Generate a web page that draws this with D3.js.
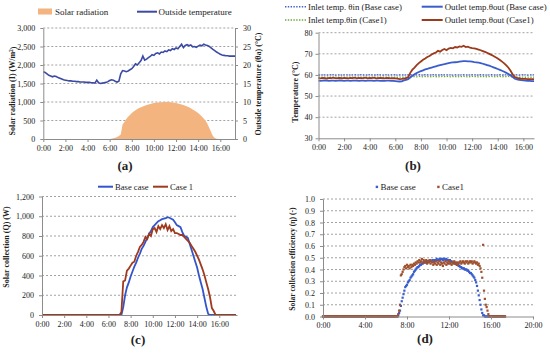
<!DOCTYPE html>
<html><head><meta charset="utf-8">
<script src="https://cdn.jsdelivr.net/npm/d3@7"></script>
<style>
body{margin:0;background:#fff}
svg text{font-family:"Liberation Serif","Times New Roman",serif}
</style>
</head><body>
<svg id="c" width="550" height="355"></svg>
<script>
// ---------- DATA ----------
// sampling: 10-minute steps (panels a,b,c) and 5-minute steps (panel d), times in hours
const t10 = d3.range(0, 106).map(i => i / 6);
const t5 = d3.range(0, 209).map(i => i / 12);

const timeTicksA = [0,2,4,6,8,10,12,14,16];
const timeTicksD = [0,4,8,12,16,20];

// (a) solar radiation (W/m2), 0:00 - 17:20
const solarRad = [
0,0,0,0,0,0, 0,0,0,0,0,0, 0,0,0,0,0,0, 0,0,0,0,0,0, 0,0,0,0,0,0, 0,0,0,0,0,0,
0,8,20,35,55,80,
120,390,460,540,600,650,
700,740,775,808,836,860,
880,900,918,933,946,958,
970,978,986,992,996,999,
1000,1000,998,994,988,980,
971,960,948,934,918,900,
879,856,830,800,768,734,
700,655,606,553,490,410,
305,190,80,30,5,0,
0,0,0,0,0,0,
0,0,0];
// (a) outside temperature (°C)
const outsideTemp = [
18.2,18.0,17.6,17.2,17.0,16.8,
17.0,16.9,16.6,16.4,16.2,16.0,
15.9,15.8,15.7,15.7,15.6,15.6,
15.5,15.5,15.4,15.4,15.4,15.3,
15.3,15.3,15.2,15.2,15.1,15.9,
15.2,15.0,15.1,15.2,15.3,15.5,
15.8,16.0,15.9,15.6,15.4,15.6,
17.6,18.5,18.4,18.2,18.4,18.7,
19.0,19.6,20.3,20.0,20.6,21.2,
22.4,21.3,21.6,22.0,22.3,22.8,
22.6,23.1,23.3,23.0,23.5,23.4,
23.8,23.6,24.1,23.9,24.4,24.2,
24.6,24.4,25.0,25.6,24.7,25.3,
25.5,25.2,25.4,24.9,25.0,24.8,
25.1,25.4,25.2,25.6,25.4,25.3,
25.0,24.6,24.2,23.9,23.5,23.2,
22.9,22.7,22.6,22.5,22.5,22.4,
22.4,22.4,22.4];

// (b) temperatures (°C), 0:00 - 16:50
const inletBase = [
60.0,59.9,60.1,60.0,59.9,60.1, 60.0,60.1,59.9,60.0,60.1,59.9,
60.0,60.0,60.1,59.9,60.0,60.1, 59.9,60.0,60.1,60.0,59.9,60.0,
60.1,60.0,59.9,60.0,60.1,60.0, 59.9,60.0,60.1,59.9,60.0,60.0,
60.1,59.9,60.0,60.0,59.9,60.0, 60.0,60.1,60.0,59.9,60.0,60.1,
60.0,59.9,60.1,60.0,60.0,59.9, 60.1,60.0,59.9,60.0,60.1,60.0,
60.0,60.1,60.0,59.9,60.0,60.1, 59.9,60.0,60.1,60.0,59.9,60.0,
60.1,60.0,60.0,59.9,60.1,60.0, 60.0,59.9,60.0,60.1,60.0,59.9,
60.0,60.1,59.9,60.0,60.0,60.1, 60.0,59.9,60.1,60.0,59.9,60.0,
60.1,60.0,59.9,60.0,60.1,60.0];
const inletCase1 = [
58.9,59.0,58.9,59.0,58.9,59.0, 59.0,58.9,59.0,58.9,59.0,59.0,
58.9,59.0,59.0,58.9,59.0,58.9, 59.0,58.9,59.0,59.0,58.9,59.0,
59.0,59.0,58.9,59.0,58.9,59.0, 58.9,59.0,59.0,58.9,59.0,59.0,
59.0,58.9,59.0,59.0,58.9,59.0, 59.1,59.2,59.3,59.2,59.1,59.3,
59.2,59.1,59.3,59.2,59.2,59.1, 59.3,59.2,59.1,59.2,59.3,59.2,
59.2,59.3,59.1,59.2,59.2,59.3, 59.1,59.2,59.3,59.2,59.1,59.2,
59.3,59.2,59.2,59.1,59.3,59.2, 59.2,59.1,59.2,59.3,59.2,59.1,
59.2,59.3,59.1,59.2,59.2,59.3, 59.2,59.1,59.0,59.0,58.9,59.0,
59.0,58.9,59.0,59.0,58.9,59.0];
const outletBase = [
57.3,57.2,57.3,57.4,57.3,57.2, 57.3,57.3,57.2,57.3,57.4,57.3,
57.2,57.3,57.3,57.2,57.3,57.3, 57.3,57.2,57.3,57.3,57.2,57.3,
57.3,57.3,57.2,57.3,57.3,57.2, 57.3,57.2,57.3,57.3,57.2,57.2,
57.1,57.0,56.9,57.0,57.4,57.7, 58.0,58.8,59.6,60.3,60.9,61.4,
61.8,62.2,62.6,62.9,63.2,63.5, 63.8,64.1,64.4,64.7,64.9,65.1,
65.4,65.6,65.8,65.9,66.0,66.1, 66.3,66.4,66.5,66.5,66.4,66.4,
66.3,66.1,66.0,65.8,65.6,65.3, 65.0,64.7,64.4,64.0,63.6,63.2,
62.8,62.4,62.0,61.5,61.0,60.4, 59.8,59.0,58.2,57.9,57.7,57.5,
57.4,57.3,57.2,57.2,57.1,57.1];
const outletCase1 = [
58.5,58.4,58.6,58.5,58.3,58.6, 58.5,58.7,58.4,58.5,58.6,58.4,
58.6,58.5,58.4,58.6,58.5,58.7, 58.4,58.6,58.5,58.5,58.7,58.4,
58.6,58.5,58.7,58.4,58.5,58.6, 58.5,58.4,58.6,58.5,58.4,58.5,
58.4,58.2,58.0,58.1,58.3,58.5, 58.9,61.0,62.5,63.5,64.6,65.6,
66.4,67.2,67.8,68.5,69.0,69.7, 70.2,70.6,71.4,71.0,71.8,72.3,
71.7,72.5,72.8,72.6,73.2,73.0, 73.5,73.3,73.8,73.2,73.4,72.9,
72.7,72.6,72.3,72.0,71.7,71.3, 70.9,70.5,70.0,69.5,69.0,68.4,
67.8,67.1,66.3,65.5,64.5,63.4, 62.0,60.2,59.0,58.6,58.4,58.2,
58.1,58.1,58.0,58.0,58.0,58.0];

// (c) solar collection Q (W), 0:00 - 17:30
const qBase = [
0,0,0,0,0,0, 0,0,0,0,0,0, 0,0,0,0,0,0, 0,0,0,0,0,0, 0,0,0,0,0,0, 0,0,0,0,0,0, 0,0,0,0,0,0,
0,0,80,200,280,330,
390,440,490,530,580,620,
670,700,740,780,820,850,
890,910,930,950,960,970,
975,980,990,985,975,965,
940,910,900,890,840,800,
795,780,720,660,600,540,
480,400,330,260,170,80,
10,0,0,0,0,0,
0,0,0,0,0,0,
0,0,0,0];
const qCase1 = [
0,0,0,0,0,0, 0,0,0,0,0,0, 0,0,0,0,0,0, 0,0,0,0,0,0, 0,0,0,0,0,0, 0,0,0,0,0,0, 0,0,0,0,0,0,
0,30,340,350,450,470,
500,530,540,600,640,690,
710,740,790,770,820,800,
870,880,840,900,870,910,
880,920,860,900,850,870,
830,830,820,810,810,790,
770,750,730,700,670,640,
600,560,510,460,400,330,
260,180,70,40,0,0,
0,0,0,0,0,0,
0,0,0,0];

// (d) solar collection efficiency (-), 5-minute steps, 0:00 - 17:20
const effBase = [
0,0,0,0,0,0,0,0,0,0,0,0, 0,0,0,0,0,0,0,0,0,0,0,0, 0,0,0,0,0,0,0,0,0,0,0,0,
0,0,0,0,0,0,0,0,0,0,0,0, 0,0,0,0,0,0,0,0,0,0,0,0, 0,0,0,0,0,0,0,0,0,0,0,0,
0,0,0,0,0,0,0,0,0,0,0,0,
0,0,0.01,0.03,0.05,0.09,0.13,0.16,0.19,0.22,0.25,0.26,
0.27,0.29,0.30,0.31,0.33,0.34,0.35,0.36,0.38,0.39,0.40,0.41,
0.42,0.42,0.43,0.44,0.44,0.45,0.45,0.46,0.46,0.46,0.47,0.46,
0.47,0.47,0.48,0.47,0.47,0.48,0.48,0.47,0.48,0.48,0.49,0.48,
0.48,0.49,0.48,0.49,0.49,0.48,0.49,0.49,0.48,0.49,0.48,0.48,
0.47,0.48,0.47,0.47,0.46,0.46,0.46,0.45,0.45,0.44,0.44,0.43,
0.43,0.42,0.42,0.41,0.41,0.41,0.40,0.40,0.40,0.39,0.39,0.38,
0.37,0.37,0.36,0.35,0.34,0.33,0.31,0.29,0.26,0.22,0.18,0.14,
0.10,0.06,0.03,0.01,0.01,0,0,0,0,0,0,0,
0,0,0,0,0,0,0,0,0,0,0,0,
0,0,0,0,0];
const effCase1 = [
0,0,0,0,0,0,0,0,0,0,0,0, 0,0,0,0,0,0,0,0,0,0,0,0, 0,0,0,0,0,0,0,0,0,0,0,0,
0,0,0,0,0,0,0,0,0,0,0,0, 0,0,0,0,0,0,0,0,0,0,0,0, 0,0,0,0,0,0,0,0,0,0,0,0,
0,0,0,0,0,0,0,0,0,0,0,0,
0,0,0.02,0.05,0.10,0.35,0.36,0.38,0.40,0.42,0.43,0.41,
0.44,0.42,0.43,0.41,0.44,0.42,0.44,0.43,0.45,0.44,0.46,0.45,
0.47,0.46,0.48,0.46,0.47,0.49,0.46,0.48,0.47,0.46,0.48,0.45,
0.47,0.46,0.48,0.45,0.47,0.46,0.44,0.46,0.45,0.47,0.44,0.46,
0.45,0.47,0.44,0.46,0.45,0.43,0.46,0.45,0.47,0.44,0.46,0.45,
0.47,0.45,0.46,0.44,0.46,0.45,0.47,0.45,0.46,0.44,0.46,0.45,
0.46,0.47,0.45,0.46,0.47,0.46,0.45,0.47,0.46,0.47,0.45,0.46,
0.47,0.46,0.47,0.45,0.46,0.47,0.46,0.45,0.46,0.44,0.45,0.43,
0.41,0.38,0.33,0.61,0.22,0.15,0.10,0.08,0.05,0.02,0,0,
0,0,0,0,0,0,0,0,0,0,0,0,
0,0,0,0,0];

// ---------- DRAWING ----------
const svg = d3.select("#c");
const AXC = "#8c8c8c", TXT = "#222";
const FONT = "Liberation Serif, Times New Roman, serif";
const hm = d => d + ":00";

function styleAxis(g, fs){
  g.attr("font-family", FONT).attr("font-size", fs || 8);
  g.select(".domain").attr("stroke", AXC);
  g.selectAll(".tick line").attr("stroke", AXC);
  g.selectAll(".tick text").attr("fill", TXT);
}
function grid(vals, y, x0, x1){
  svg.append("g").selectAll("line").data(vals).join("line")
    .attr("x1", x0).attr("x2", x1).attr("y1", d => y(d)).attr("y2", d => y(d))
    .attr("stroke", "#8a8a8a").attr("stroke-width", 0.8).attr("stroke-dasharray", "2,2");
}
function vTitle(x, y, txt, fs){
  return svg.append("text").attr("transform", `translate(${x},${y}) rotate(-90)`)
    .attr("text-anchor", "middle").attr("dy", "0.35em").attr("font-weight", "bold")
    .attr("font-size", fs || 8).attr("fill", TXT).text(txt);
}
function label(x, y, txt, fs, anchor){
  return svg.append("text").attr("x", x).attr("y", y).attr("font-size", fs || 9)
    .attr("fill", TXT).attr("text-anchor", anchor || "start").text(txt);
}

// ===== Panel (a) =====
{
  const x = d3.scaleLinear([0, 17.33], [43.3, 235]);
  const y = d3.scaleLinear([0, 3000], [139, 28]);
  const y2 = d3.scaleLinear([0, 30], [139, 28]);
  grid([500,1000,1500,2000,2500,3000], y, 43.3, 235);
  const dat = t10.slice(0, solarRad.length).map((t, i) => [t, solarRad[i]]);
  svg.append("path").datum(dat)
    .attr("d", d3.area().x(d => x(d[0])).y0(y(0)).y1(d => y(d[1])))
    .attr("fill", "#f4b47f");
  const dt = t10.slice(0, outsideTemp.length).map((t, i) => [t, outsideTemp[i]]);
  svg.append("path").datum(dt)
    .attr("d", d3.line().x(d => x(d[0])).y(d => y2(d[1])))
    .attr("fill", "none").attr("stroke", "#3b4aa3").attr("stroke-width", 1.6);
  styleAxis(svg.append("g").attr("transform", "translate(43.3,0)")
    .call(d3.axisLeft(y).tickValues([0,500,1000,1500,2000,2500,3000]).tickFormat(d3.format(",")).tickSize(3).tickSizeOuter(0).tickPadding(5)));
  styleAxis(svg.append("g").attr("transform", "translate(235,0)")
    .call(d3.axisRight(y2).tickValues([0,5,10,15,20,25,30]).tickSize(3).tickSizeOuter(0).tickPadding(5)));
  styleAxis(svg.append("g").attr("transform", "translate(0,139)")
    .call(d3.axisBottom(x).tickValues(timeTicksA).tickFormat(hm).tickSize(3).tickSizeOuter(0)));
  const t1 = vTitle(12, 91, "Solar radiation (I) (W/m");
  t1.append("tspan").attr("dy", "-0.3em").attr("font-size", 5.5).text("2");
  t1.append("tspan").attr("dy", "0.3em").text(")");
  vTitle(258, 84, "Outside temperature (θa) (°C)");
  svg.append("rect").attr("x", 38).attr("y", 8.5).attr("width", 14).attr("height", 6).attr("fill", "#f4b47f");
  label(55, 14.8, "Solar radiation", 9);
  svg.append("line").attr("x1", 137).attr("x2", 157).attr("y1", 11.7).attr("y2", 11.7).attr("stroke", "#3b4aa3").attr("stroke-width", 2);
  label(158.5, 14.8, "Outside temperature", 9);
  label(125, 170, "(a)", 13, "middle").attr("font-weight", "bold");
}

// ===== Panel (b) =====
{
  const x = d3.scaleLinear([0, 16.83], [318.5, 534]);
  const y = d3.scaleLinear([30, 80], [138.3, 32.7]);
  grid([40,50,60,70,80], y, 318.5, 534);
  const series = [
    {v: inletBase, c: "#3f5fd0", w: 1.3, dash: "1.4,1.4"},
    {v: inletCase1, c: "#6fa63a", w: 1.3, dash: "1.4,1.4"},
    {v: outletBase, c: "#3a5ccc", w: 1.8, dash: null},
    {v: outletCase1, c: "#9c3a1c", w: 1.8, dash: null}
  ];
  series.forEach(s => {
    const d = t10.slice(0, s.v.length).map((t, i) => [t, s.v[i]]);
    svg.append("path").datum(d).attr("d", d3.line().x(p => x(p[0])).y(p => y(p[1])))
      .attr("fill", "none").attr("stroke", s.c).attr("stroke-width", s.w)
      .attr("stroke-dasharray", s.dash);
  });
  styleAxis(svg.append("g").attr("transform", "translate(318.5,0)")
    .call(d3.axisLeft(y).tickValues([30,40,50,60,70,80]).tickSize(3).tickSizeOuter(0).tickPadding(3)));
  styleAxis(svg.append("g").attr("transform", "translate(0,138.3)")
    .call(d3.axisBottom(x).tickValues(timeTicksA).tickFormat(hm).tickSize(3).tickSizeOuter(0)));
  vTitle(295, 92, "Temperature (°C)");
  const leg = [
    {x: 285, y: 6.7, c: "#3f5fd0", dash: "1.4,1.4", w: 1.4, t: "Inlet temp. θin (Base case)"},
    {x: 285, y: 20, c: "#6fa63a", dash: "1.4,1.4", w: 1.4, t: "Inlet temp.θin (Case1)"},
    {x: 421.7, y: 6.7, c: "#3a5ccc", dash: null, w: 2, t: "Outlet temp.θout (Base case)"},
    {x: 421.7, y: 20, c: "#9c3a1c", dash: null, w: 2, t: "Outlet temp.θout (Case1)"}
  ];
  leg.forEach(l => {
    svg.append("line").attr("x1", l.x).attr("x2", l.x + 21).attr("y1", l.y).attr("y2", l.y)
      .attr("stroke", l.c).attr("stroke-width", l.w).attr("stroke-dasharray", l.dash);
    label(l.x + 23, l.y + 3, l.t, 8.8);
  });
  label(413, 170, "(b)", 13, "middle").attr("font-weight", "bold");
}

// ===== Panel (c) =====
{
  const x = d3.scaleLinear([0, 17.6], [42, 237]);
  const y = d3.scaleLinear([0, 1200], [315, 196.5]);
  grid([200,400,600,800,1000,1200], y, 42, 237);
  [{v: qBase, c: "#3355cc"}, {v: qCase1, c: "#a03a1e"}].forEach(s => {
    const d = t10.slice(0, s.v.length).map((t, i) => [t, s.v[i]]);
    svg.append("path").datum(d).attr("d", d3.line().x(p => x(p[0])).y(p => y(p[1])))
      .attr("fill", "none").attr("stroke", s.c).attr("stroke-width", 1.8);
  });
  styleAxis(svg.append("g").attr("transform", "translate(42,0)")
    .call(d3.axisLeft(y).tickValues([0,200,400,600,800,1000,1200]).tickFormat(d3.format(",")).tickSize(3).tickSizeOuter(0).tickPadding(5)));
  styleAxis(svg.append("g").attr("transform", "translate(0,315)")
    .call(d3.axisBottom(x).tickValues(timeTicksA).tickFormat(hm).tickSize(3).tickSizeOuter(0)));
  vTitle(6.5, 247, "Solar collection (Q) (W)");
  svg.append("line").attr("x1", 98).attr("x2", 113).attr("y1", 186.7).attr("y2", 186.7).attr("stroke", "#3355cc").attr("stroke-width", 2);
  label(115, 189.7, "Base case", 8.6);
  svg.append("line").attr("x1", 153).attr("x2", 168).attr("y1", 186.7).attr("y2", 186.7).attr("stroke", "#a03a1e").attr("stroke-width", 2);
  label(170, 189.7, "Case 1", 8.6);
  label(138, 344, "(c)", 13, "middle").attr("font-weight", "bold");
}

// ===== Panel (d) =====
{
  const x = d3.scaleLinear([0, 20], [323, 533]);
  const y = d3.scaleLinear([0, 1], [316.5, 199]);
  grid([0.1,0.2,0.3,0.4,0.5,0.6,0.7,0.8,0.9,1.0], y, 323, 533);
  const sz = 2.2;
  [{v: effBase, c: "#3a5fcd"}, {v: effCase1, c: "#a0502d"}].forEach(s => {
    const d = t5.slice(0, s.v.length).map((t, i) => [t, s.v[i]]);
    svg.append("g").selectAll("rect").data(d).join("rect")
      .attr("x", p => x(p[0]) - sz / 2).attr("y", p => y(p[1]) - sz / 2)
      .attr("width", sz).attr("height", sz).attr("fill", s.c);
  });
  styleAxis(svg.append("g").attr("transform", "translate(323,0)")
    .call(d3.axisLeft(y).tickValues([0,0.1,0.2,0.3,0.4,0.5,0.6,0.7,0.8,0.9,1.0]).tickFormat(d3.format(".1f")).tickSize(3).tickSizeOuter(0).tickPadding(5)));
  styleAxis(svg.append("g").attr("transform", "translate(0,316.5)")
    .call(d3.axisBottom(x).tickValues(timeTicksD).tickFormat(hm).tickSize(3).tickSizeOuter(0)));
  vTitle(292, 259, "Solar collection efficiency (η) (-)", 7.6);
  svg.append("rect").attr("x", 375.7).attr("y", 185.7).attr("width", 2.4).attr("height", 2.4).attr("fill", "#3a5fcd");
  label(380.5, 190, "Base case", 9);
  svg.append("rect").attr("x", 437.2).attr("y", 185.7).attr("width", 2.4).attr("height", 2.4).attr("fill", "#a0502d");
  label(442, 190, "Case1", 9);
  label(425, 343, "(d)", 13, "middle").attr("font-weight", "bold");
}
</script>
</body></html>
